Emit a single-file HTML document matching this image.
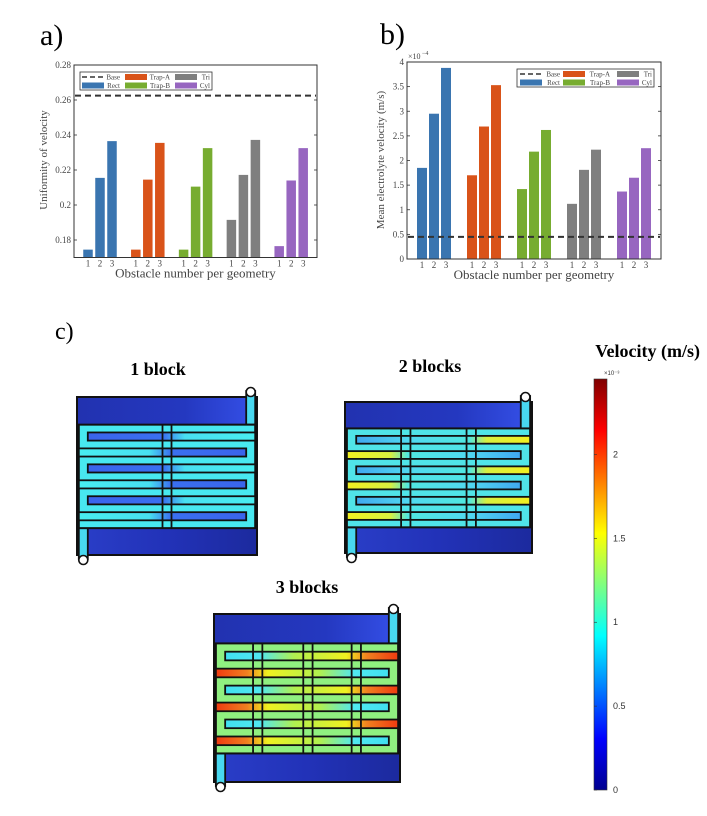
<!DOCTYPE html>
<html><head><meta charset="utf-8">
<style>
html,body{margin:0;padding:0;background:#fff;}
svg{display:block;font-family:"Liberation Serif",serif;}
</style></head>
<body>
<svg id="fig" width="707" height="816" viewBox="0 0 707 816" xmlns="http://www.w3.org/2000/svg">
<defs>
<linearGradient id="jet" x1="0" y1="1" x2="0" y2="0">
<stop offset="0" stop-color="#00008f"/><stop offset="0.125" stop-color="#0000ff"/>
<stop offset="0.375" stop-color="#00ffff"/><stop offset="0.625" stop-color="#ffff00"/>
<stop offset="0.875" stop-color="#ff0000"/><stop offset="1" stop-color="#800000"/>
</linearGradient>
<linearGradient id="bgdark" x1="0" y1="0" x2="1" y2="0">
<stop offset="0" stop-color="#2a3ec8"/><stop offset="0.5" stop-color="#2232b8"/><stop offset="1" stop-color="#1c2a9e"/>
</linearGradient>
<linearGradient id="bgtop" x1="0" y1="0" x2="1" y2="0">
<stop offset="0" stop-color="#2232b0"/><stop offset="0.6" stop-color="#2438c0"/><stop offset="1" stop-color="#3550e8"/>
</linearGradient>
</defs>
<text x="40" y="45" font-size="30">a)</text>
<text x="380" y="44" font-size="30">b)</text>
<text x="55" y="339" font-size="24">c)</text>
<g id="chartA"></g>
<g id="chartB"></g>
<g id="maps"></g>
<g id="cbar"></g>
</svg>
<script>
const NS="http://www.w3.org/2000/svg";
const groups=["Rect","Trap-A","Trap-B","Tri","Cyl"];
const colors=["#3a75b0","#d95319","#77ac30","#7f7f7f","#9766c0"];
const uniformityValues=[[0.1745,0.2155,0.2365],[0.1745,0.2145,0.2355],[0.1745,0.2105,0.2325],[0.1915,0.2172,0.2372],[0.1765,0.214,0.2325]];
const uniformityBase=0.2625;
const uniformityTicks=[0.18,0.2,0.22,0.24,0.26,0.28];
const uniformityTickLabels=["0.18","0.2","0.22","0.24","0.26","0.28"];
const velocityValues=[[1.85,2.95,3.88],[1.70,2.69,3.53],[1.42,2.18,2.62],[1.12,1.81,2.22],[1.37,1.65,2.25]];
const velocityBase=0.45;
const velocityTicks=[0,0.5,1,1.5,2,2.5,3,3.5,4];
const velocityTickLabels=["0","0.5","1","1.5","2","2.5","3","3.5","4"];
const obstacleLabels=["1","2","3"];
const colorbarTicks=[0,0.5,1,1.5,2];
const colorbarTickLabels=["0","0.5","1","1.5","2"];

function el(tag,attrs,parent,text){const e=document.createElementNS(NS,tag);for(const k in attrs)e.setAttribute(k,attrs[k]);if(text!==undefined)e.textContent=text;parent.appendChild(e);return e;}

function chart(g,cfg){
  const {x0,x1,y0,y1,ymin,ymax,vals,base,ticks,tlabels,gx0,gstep,bw,bstep,ytitle,tcx,tcy}=cfg;
  const ys=v=>y1-(v-ymin)/(ymax-ymin)*(y1-y0);
  const xs=(gi,bi)=>gx0+gi*gstep+(bi-1)*bstep;
  const box=el('rect',{x:x0,y:y0,width:x1-x0,height:y1-y0,fill:'none',stroke:'#333','stroke-width':1},g);
  
  ticks.forEach((t,i)=>{const y=ys(t);
    el('line',{x1:x0,x2:x0+3,y1:y,y2:y,stroke:'#333','stroke-width':0.8},g);
    el('line',{x1:x1,x2:x1-3,y1:y,y2:y,stroke:'#333','stroke-width':0.8},g);
    const tl=el('text',{x:x0-3,y:y+3,'font-size':9,'text-anchor':'end',fill:'#444'},g,tlabels[i]);
    
  });
  vals.forEach((gv,gi)=>{gv.forEach((v,bi)=>{const cx=xs(gi,bi);
    const r=el('rect',{x:cx-bw/2,y:ys(v),width:bw,height:y1-ys(v)-0.5,fill:colors[gi]},g);
    
    const tl=el('text',{x:cx,y:y1+9,'font-size':9,'text-anchor':'middle',fill:'#444'},g,obstacleLabels[bi]);
    
  });});
  const bl=el('line',{x1:x0+1,x2:x1-1,y1:ys(base),y2:ys(base),stroke:'#333','stroke-width':2,'stroke-dasharray':'6,4'},g);
  
  const xt=el('text',{x:(x0+x1)/2,y:y1+20,'font-size':13,'text-anchor':'middle',fill:'#444'},g,'Obstacle number per geometry');
  
  const yt=el('text',{x:tcx,y:tcy,'font-size':11,'text-anchor':'middle',fill:'#444',transform:`rotate(-90 ${tcx} ${tcy})`},g,ytitle);
  
}
function legend(g,lx,ly,lw,cols){
  const lg=el('g',{},g);
  el('rect',{x:lx,y:ly,width:lw,height:18,fill:'#fff',stroke:'#333','stroke-width':0.8},lg);
  const items=[['Base',null],['Trap-A',colors[1]],['Tri',colors[3]],['Rect',colors[0]],['Trap-B',colors[2]],['Cyl',colors[4]]];
  items.forEach((it,i)=>{const c=i%3,r=Math.floor(i/3);const sx=cols[c][0],ex=cols[c][1];const y=ly+5+r*8.5;
    const ent=el('g',{},lg);
    if(it[1])el('rect',{x:sx,y:y-3,width:22,height:6,fill:it[1]},ent);
    else el('line',{x1:sx,x2:sx+22,y1:y,y2:y,stroke:'#333','stroke-width':1.5,'stroke-dasharray':'5,3'},ent);
    el('text',{x:ex,y:y+2.5,'font-size':7,'text-anchor':'end',fill:'#444'},ent,it[0]);
  });
}
const A=document.getElementById('chartA');
chart(A,{x0:74,x1:317,y0:65,y1:257.5,ymin:0.17,ymax:0.28,vals:uniformityValues,base:uniformityBase,ticks:uniformityTicks,tlabels:uniformityTickLabels,gx0:100,gstep:47.8,bw:9.5,bstep:12,ytitle:'Uniformity of velocity',tcx:47,tcy:160});
legend(A,80,72,132,[[82,120],[125,170],[175,210]]);
const B=document.getElementById('chartB');
chart(B,{x0:407,x1:661,y0:62,y1:259,ymin:0,ymax:4,vals:velocityValues,base:velocityBase,ticks:velocityTicks,tlabels:velocityTickLabels,gx0:434,gstep:50,bw:10,bstep:12,ytitle:'Mean electrolyte velocity (m/s)',tcx:384,tcy:160});
el('text',{x:408,y:59,'font-size':8,fill:'#444'},B,'×10');
el('text',{x:422,y:55,'font-size':6,fill:'#444'},B,'−4');
legend(B,517,69,137,[[520,560],[563,610],[617,652]]);

const M=document.getElementById('maps');
let gid=0;
function grad(stops){const id='g'+(gid++);const d=document.querySelector('defs');const lg=el('linearGradient',{id:id,x1:0,y1:0,x2:1,y2:0},d);
  stops.forEach(s=>el('stop',{offset:s[0],'stop-color':s[1]},lg));return 'url(#'+id+')';}
function panel(title,tx,ty,x,y,w,h,blocks,pal){
  const g=el('g',{},M);
  const t=el('text',{x:tx,y:ty,'font-size':18,'font-weight':'bold','text-anchor':'middle'},g,title);
  
  el('rect',{x:x,y:y,width:w,height:h,fill:'url(#bgdark)',stroke:'#111','stroke-width':2},g);
  el('rect',{x:x+1,y:y+1,width:w-2,height:0.175*h-1,fill:'url(#bgtop)'},g);
  const ry0=y+0.175*h,ry1=y+0.83*h,rh=ry1-ry0;
  const u=rh/(6*24+7*23);
  const lx=x+0.01*w,rx=x+w-0.01*w;
  el('rect',{x:rx-0.05*w,y:y-6,width:0.05*w,height:ry0-y+6,fill:pal.inlet,stroke:'#111','stroke-width':1.8},g);
  el('rect',{x:lx,y:ry1,width:0.05*w,height:y+h-ry1+4,fill:pal.inlet,stroke:'#111','stroke-width':1.8},g);
  el('rect',{x:lx,y:ry0,width:rx-lx,height:rh,fill:pal.chan,stroke:'#111','stroke-width':2},g);
  for(let i=0;i<6;i++){
    const by=ry0+(23+i*47)*u;const left=(i%2===1);
    const bx0=left?lx:x+0.06*w, bx1=left?x+w-0.06*w:rx;
    const stops=left?pal.bar:pal.bar.map(s=>[1-s[0],s[1]]).reverse();
    el('rect',{x:bx0,y:by,width:bx1-bx0,height:24*u,fill:grad(stops),stroke:'#111','stroke-width':1.8},g);
  }
  blocks.forEach(b=>{[b,b+0.05].forEach(f=>el('line',{x1:x+f*w,x2:x+f*w,y1:ry0,y2:ry1,stroke:'#111','stroke-width':1.8},g));});
  el('circle',{cx:rx-0.025*w,cy:y-5,r:4.5,fill:'#fff',stroke:'#111','stroke-width':1.6},g);
  el('circle',{cx:lx+0.025*w,cy:y+h+5,r:4.5,fill:'#fff',stroke:'#111','stroke-width':1.6},g);
}
panel('1 block',158,375,77,397,180,158,[0.475],{inlet:'#48d8f0',chan:'#48e8f0',bar:[[0,'#48eef0'],[0.42,'#48e0f0'],[0.55,'#3a70f0'],[1,'#3a64ec']]});
panel('2 blocks',430,372,345,402,187,151,[0.3,0.65],{inlet:'#48d8f0',chan:'#50e4e8',bar:[[0,'#f2f020'],[0.25,'#d8f040'],[0.35,'#50e8e0'],[0.7,'#50d8f0'],[1,'#40a8f0']]});
panel('3 blocks',307,593,214,614,186,168,[0.21,0.48,0.74],{inlet:'#48d8f0',chan:'#90f080',bar:[[0,'#f03a10'],[0.18,'#f08020'],[0.3,'#f0f020'],[0.6,'#b0f050'],[0.8,'#50e8f0'],[1,'#40e0f0']]});

const C=document.getElementById('cbar');
const ct=el('text',{x:700,y:357,'font-size':18,'font-weight':'bold','text-anchor':'end'},C,'Velocity (m/s)');

const cb0=790,cb1=379,cmax=2.45;
el('rect',{x:594,y:cb1,width:13,height:cb0-cb1,fill:'url(#jet)',stroke:'#333','stroke-width':0.6},C);
el('text',{x:604,y:375,'font-size':6,fill:'#333','font-family':'Liberation Sans, sans-serif'},C,'×10⁻³');
const cy=v=>cb0-v/cmax*(cb0-cb1);
colorbarTicks.forEach((v,i)=>{const y=cy(v);
  el('line',{x1:594,x2:597,y1:y,y2:y,stroke:'#333','stroke-width':0.6},C);
  const t=el('text',{x:613,y:y+3,'font-size':9,fill:'#333','font-family':'Liberation Sans, sans-serif'},C,colorbarTickLabels[i]);
  
});
</script>
</body></html>
